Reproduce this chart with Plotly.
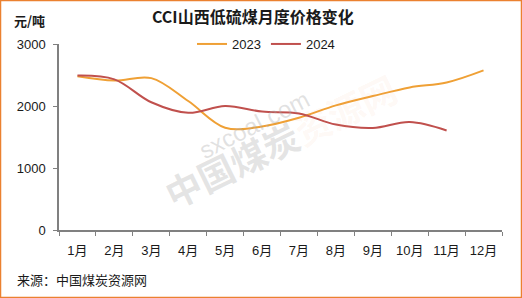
import plotly.graph_objects as go

months = ["1月", "2月", "3月", "4月", "5月", "6月", "7月", "8月", "9月", "10月", "11月", "12月"]
price_2023 = [2480, 2410, 2450, 2080, 1650, 1670, 1810, 2010, 2160, 2300, 2380, 2575]
price_2024 = [2490, 2430, 2060, 1890, 2000, 1910, 1880, 1700, 1645, 1740, 1605]
y_ticks = [0, 1000, 2000, 3000]

W, H = 522, 298
L, R, T, B = 59, 20, 44, 68
pw, ph = W - L - R, H - T - B

font_main = "Arial, 'Liberation Sans', 'Noto Sans CJK SC', sans-serif"

fig = go.Figure()
fig.add_trace(go.Scatter(x=months[:len(price_2023)], y=price_2023, name="2023", mode="lines",
                         line=dict(color="#EFA035", width=2, shape="spline", smoothing=1)))
fig.add_trace(go.Scatter(x=months[:len(price_2024)], y=price_2024, name="2024", mode="lines",
                         line=dict(color="#C0504D", width=2, shape="spline", smoothing=1)))

def px2paper_x(px):
    return (px - L) / pw

def px2paper_y(py):
    return 1 - (py - T) / ph

annotations = [
    dict(text="<b>CCI山西低硫煤月度价格变化</b>", x=px2paper_x(253), y=px2paper_y(16),
         xref="paper", yref="paper", showarrow=False, xanchor="center", yanchor="middle",
         font=dict(size=16, color="#1a1a1a", family="'Noto Sans CJK SC', sans-serif")),
    dict(text="<b>元/吨</b>", x=px2paper_x(12), y=px2paper_y(20),
         xref="paper", yref="paper", showarrow=False, xanchor="left", yanchor="middle",
         font=dict(size=13, color="#1a1a1a", family="'Noto Sans CJK SC', sans-serif")),
    dict(text="来源：中国煤炭资源网", x=px2paper_x(15), y=px2paper_y(279),
         xref="paper", yref="paper", showarrow=False, xanchor="left", yanchor="middle",
         font=dict(size=13, color="#1a1a1a", family="'Noto Sans CJK SC', sans-serif")),
    # watermark
    dict(text="sxcoal.com", x=px2paper_x(192), y=px2paper_y(124),
         xref="paper", yref="paper", showarrow=False, textangle=-27,
         font=dict(size=24, color="rgba(170,170,170,0.35)", family="Arial, sans-serif")),
    dict(text="<b>中国煤炭<span style='color:rgba(245,160,120,0.3)'>资源网</span></b>",
         x=px2paper_x(280), y=px2paper_y(140),
         xref="paper", yref="paper", showarrow=False, textangle=-26,
         font=dict(size=36, color="rgba(160,160,160,0.28)", family="'Noto Sans CJK SC', sans-serif")),
]

shapes = [
    dict(type="rect", xref="paper", yref="paper",
         x0=px2paper_x(0.5), x1=px2paper_x(W - 0.5), y0=px2paper_y(H - 0.5), y1=px2paper_y(0.5),
         line=dict(color="#EB8130", width=1.5), layer="below"),
]

fig.update_layout(
    width=W, height=H,
    margin=dict(l=L, r=R, t=T, b=B, pad=0),
    paper_bgcolor="white", plot_bgcolor="white",
    font=dict(family=font_main, size=13, color="#1a1a1a"),
    showlegend=True,
    legend=dict(orientation="h", x=px2paper_x(266), y=px2paper_y(44), xanchor="center", yanchor="middle",
                font=dict(size=13, color="#1a1a1a"), bgcolor="rgba(0,0,0,0)",
                itemwidth=30, tracegroupgap=0),
    annotations=annotations,
    shapes=shapes,
    xaxis=dict(type="category", categoryorder="array", categoryarray=months,
               range=[-0.5, 11.5], showline=True, linecolor="#808080", linewidth=1.5,
               ticks="outside", tickson="boundaries", ticklen=4, tickcolor="#808080",
               ticklabelstandoff=8,
               showgrid=False, zeroline=False, tickfont=dict(size=13), fixedrange=True),
    yaxis=dict(range=[0, 3000], tickvals=y_ticks, showline=True, linecolor="#808080", linewidth=1.5,
               ticks="outside", ticklen=4, tickcolor="#808080", showgrid=False, zeroline=False,
               ticklabelstandoff=5,
               tickfont=dict(size=13), fixedrange=True),
)

fig.write_html("out.html")
